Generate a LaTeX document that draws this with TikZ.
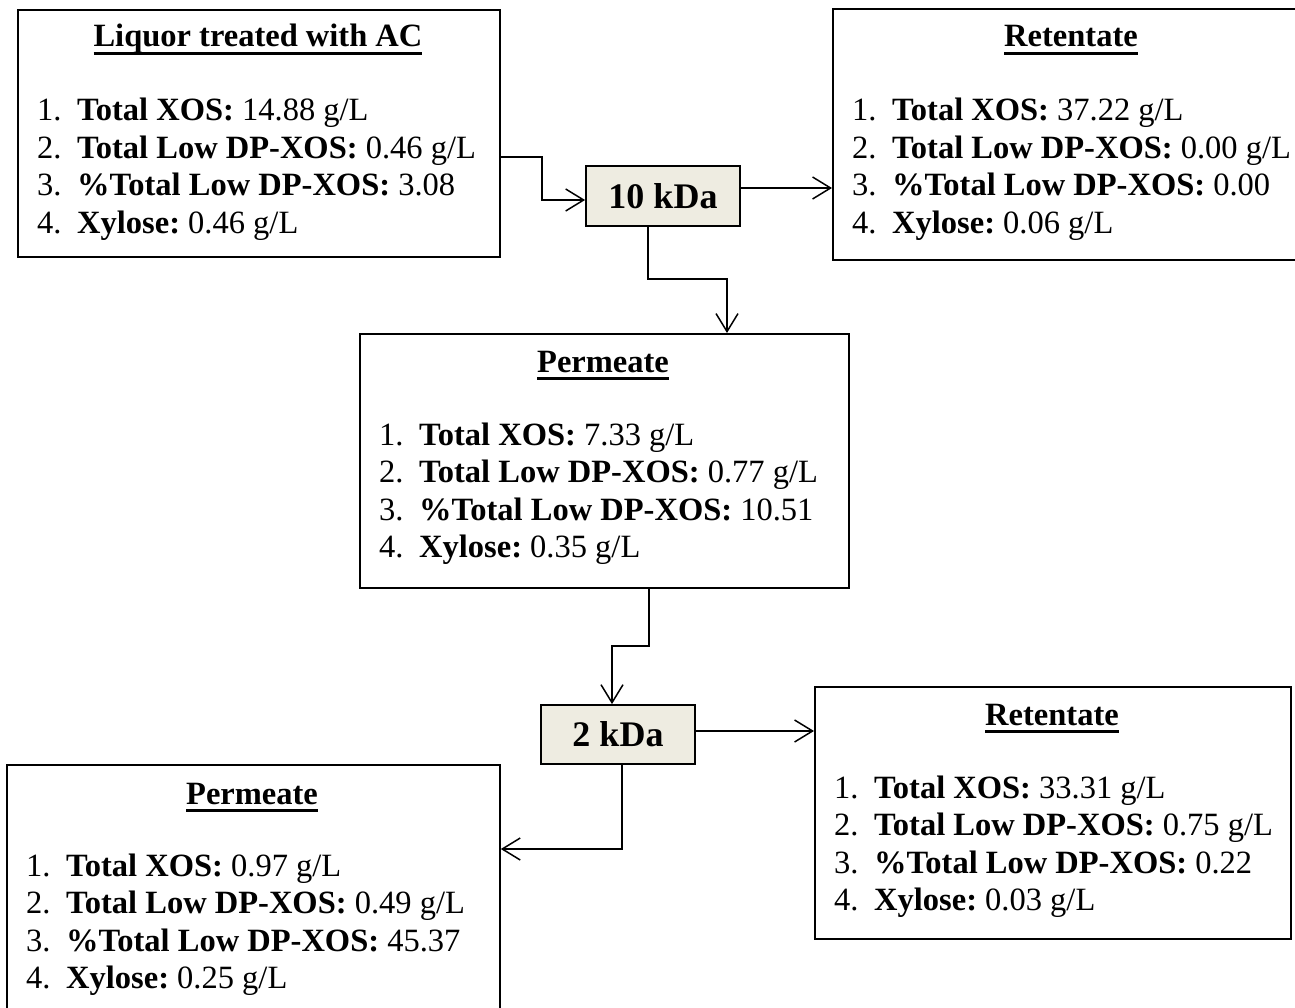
\documentclass[tikz,border=0pt]{standalone}
\usepackage{fontspec}
\setmainfont{Liberation Serif}
\usetikzlibrary{arrows.meta}
\frenchspacing
\newcommand\itm[3]{\makebox[40pt][l]{#1.}\textbf{#2}\ #3}
\newcommand\ulin[1]{\setbox0\hbox{#1}\rlap{\rule[-8pt]{\wd0}{3.2pt}}\box0}
\definecolor{kda}{HTML}{EEECE1}
\begin{document}
\begin{tikzpicture}[x=1pt,y=-1pt,
  box/.style={draw, line width=1.8pt, anchor=north west, inner sep=0pt},
  kbox/.style={draw, line width=1.8pt, fill=kda, inner sep=0pt, minimum width=154pt, font=\fontsize{36}{40}\selectfont\bfseries},
  ttl/.style={anchor=base, inner sep=0pt, font=\fontsize{32.5}{37.5}\selectfont\bfseries},
  itmline/.style={anchor=base west, inner sep=0pt, font=\fontsize{32.5}{37.5}\selectfont},
  conn/.style={line width=1.5pt, -{Straight Barb[length=18pt,width=22pt,line width=1.5pt]}}
]
\clip (0,0) rectangle (1295,1008);
% boxes
\node[box, minimum width=482pt, minimum height=247pt] (b1) at (17,9) {};
\node[box, minimum width=478pt, minimum height=251pt] (r1) at (832,8) {};
\node[box, minimum width=489pt, minimum height=254pt] (p1) at (359,333) {};
\node[box, minimum width=476pt, minimum height=252pt] (r2) at (814,686) {};
\node[box, minimum width=493pt, minimum height=262pt] (q2) at (6,764) {};
\node[kbox, minimum height=60pt] (k1) at (663,196) {10 kDa};
\node[kbox, minimum height=59pt] (k2) at (618,734.5) {2 kDa};
% box 1
\node[ttl] (b1t) at (258,47) {\ulin{Liquor treated with AC}};
\node[itmline] (b1a) at (37,121) {\itm{1}{Total XOS:}{14.88 g/L}};
\node[itmline] (b1b) at (37,158.5) {\itm{2}{Total Low DP-XOS:}{0.46 g/L}};
\node[itmline] (b1c) at (37,196) {\itm{3}{\%Total Low DP-XOS:}{3.08}};
\node[itmline] (b1d) at (37,233.5) {\itm{4}{Xylose:}{0.46 g/L}};
% retentate 1
\node[ttl] (r1t) at (1071,47) {\ulin{Retentate}};
\node[itmline] (r1a) at (852,121) {\itm{1}{Total XOS:}{37.22 g/L}};
\node[itmline] (r1b) at (852,158.5) {\itm{2}{Total Low DP-XOS:}{0.00 g/L}};
\node[itmline] (r1c) at (852,196) {\itm{3}{\%Total Low DP-XOS:}{0.00}};
\node[itmline] (r1d) at (852,233.5) {\itm{4}{Xylose:}{0.06 g/L}};
% permeate 1
\node[ttl] (p1t) at (603,372) {\ulin{Permeate}};
\node[itmline] (p1a) at (379,445) {\itm{1}{Total XOS:}{7.33 g/L}};
\node[itmline] (p1b) at (379,482.5) {\itm{2}{Total Low DP-XOS:}{0.77 g/L}};
\node[itmline] (p1c) at (379,520) {\itm{3}{\%Total Low DP-XOS:}{10.51}};
\node[itmline] (p1d) at (379,557.5) {\itm{4}{Xylose:}{0.35 g/L}};
% retentate 2
\node[ttl] (r2t) at (1052,725) {\ulin{Retentate}};
\node[itmline] (r2a) at (834,798) {\itm{1}{Total XOS:}{33.31 g/L}};
\node[itmline] (r2b) at (834,835.5) {\itm{2}{Total Low DP-XOS:}{0.75 g/L}};
\node[itmline] (r2c) at (834,873) {\itm{3}{\%Total Low DP-XOS:}{0.22}};
\node[itmline] (r2d) at (834,910.5) {\itm{4}{Xylose:}{0.03 g/L}};
% permeate 2
\node[ttl] (q2t) at (252,804) {\ulin{Permeate}};
\node[itmline] (q2a) at (26,876) {\itm{1}{Total XOS:}{0.97 g/L}};
\node[itmline] (q2b) at (26,913.5) {\itm{2}{Total Low DP-XOS:}{0.49 g/L}};
\node[itmline] (q2c) at (26,951) {\itm{3}{\%Total Low DP-XOS:}{45.37}};
\node[itmline] (q2d) at (26,988.5) {\itm{4}{Xylose:}{0.25 g/L}};
% connectors
\draw[conn] (b1.east |- 0,157) -- (542,157) |- (k1.west |- 0,200);
\draw[conn] (k1.east |- 0,188) -- (r1.west |- 0,188);
\draw[conn] (k1.south -| 648,0) |- (727,279) -- (p1.north -| 727,0);
\draw[conn] (p1.south -| 649,0) |- (612,646) -- (k2.north -| 612,0);
\draw[conn] (k2.east |- 0,731) -- (r2.west |- 0,731);
\draw[conn] (k2.south -| 622,0) |- (q2.east |- 0,849);
\end{tikzpicture}
\end{document}
